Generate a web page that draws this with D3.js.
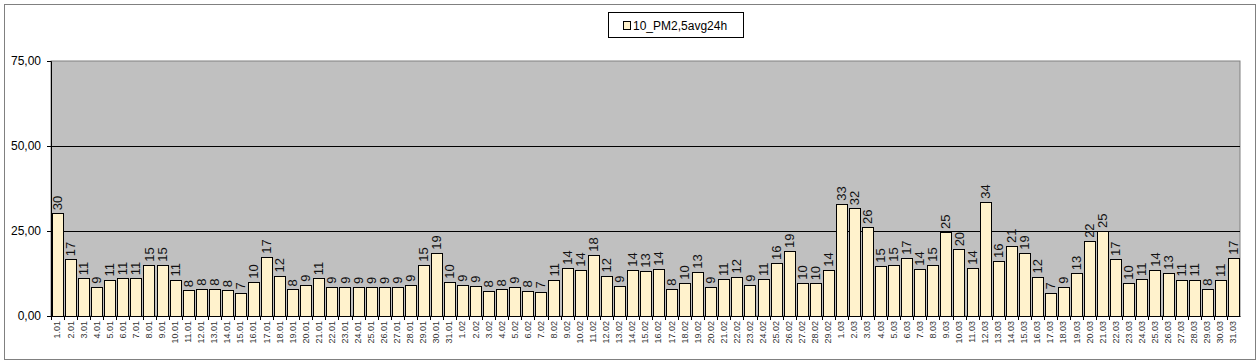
<!DOCTYPE html>
<html>
<head>
<meta charset="utf-8">
<script src="https://cdn.jsdelivr.net/npm/d3@7"></script>
<style>
  body { margin: 0; background: #fff; }
  svg { display: block; font-family: Arial, "Liberation Sans", sans-serif; }
</style>
</head>
<body>
<div id="chart"></div>
<script>
// daily PM2.5 24h averages, 1.01 - 31.03
var janValues = [30.2, 16.7, 11.1, 8.6, 10.7, 11.1, 11.1, 15.1, 15.1, 10.7, 7.6, 8.0, 8.0, 7.6, 6.9, 10.1,
  17.4, 11.9, 7.8, 9.2, 11.1, 8.6, 8.6, 8.5, 8.5, 8.5, 8.6, 9.2, 15.1, 18.6, 10.1];
var febValues = [9.2, 8.9, 7.5, 7.8, 8.6, 7.5, 7.2, 10.7, 14.2, 13.6, 18.0, 11.9, 8.9, 13.6, 13.3, 13.9,
  8.0, 9.8, 13.0, 8.6, 10.9, 11.6, 9.2, 10.9, 15.6, 19.1, 9.8, 9.6, 13.6];
var marValues = [33.0, 31.7, 26.2, 14.8, 15.1, 17.1, 13.9, 15.1, 24.7, 19.6, 14.2, 33.6, 16.2, 20.6, 18.6,
  11.6, 6.9, 8.6, 12.6, 22.1, 25.0, 16.8, 9.8, 10.9, 13.6, 12.7, 10.7, 10.7, 8.0, 10.6, 17.1];
var yTicks = [0, 25, 50, 75];
var seriesName = "10_PM2,5avg24h";

var days = [];
janValues.forEach(function(v, i) { days.push({label: (i + 1) + ".01", value: v}); });
febValues.forEach(function(v, i) { days.push({label: (i + 1) + ".02", value: v}); });
marValues.forEach(function(v, i) { days.push({label: (i + 1) + ".03", value: v}); });

var width = 1260, height = 364;
var margin = {top: 61, right: 20, bottom: 48, left: 51};

var svg = d3.select("#chart").append("svg").attr("width", width).attr("height", height);

// outer chart frame
svg.append("rect").attr("x", 4.5).attr("y", 4.5).attr("width", width - 9).attr("height", height - 9)
  .attr("fill", "none").attr("stroke", "#808080");

var x = d3.scaleBand().domain(days.map(function(d) { return d.label; }))
  .range([margin.left, width - margin.right]).paddingInner(0.15).paddingOuter(0.08);
var y = d3.scaleLinear().domain([0, 75]).range([height - margin.bottom, margin.top]);

// plot area
svg.append("rect").attr("x", margin.left).attr("y", margin.top)
  .attr("width", width - margin.right - margin.left).attr("height", y(0) - margin.top)
  .attr("fill", "#c0c0c0").attr("stroke", "#808080");

// grid
svg.append("g").selectAll("line").data(yTicks.filter(function(t) { return t > 0 && t < 75; })).enter()
  .append("line").attr("x1", margin.left).attr("x2", width - margin.right)
  .attr("y1", function(d) { return Math.round(y(d)) + 0.5; }).attr("y2", function(d) { return Math.round(y(d)) + 0.5; })
  .attr("stroke", "#000").attr("stroke-width", 1);

// y axis
var yAxis = svg.append("g").attr("transform", "translate(" + margin.left + ",0)")
  .call(d3.axisLeft(y).tickValues(yTicks).tickSize(4).tickPadding(6)
    .tickFormat(function(d) { return d3.format(".2f")(d).replace(".", ","); }));
yAxis.select(".domain").attr("stroke", "#000");
yAxis.selectAll("text").attr("font-size", 12).attr("fill", "#000").attr("font-family", "Arial, 'Liberation Sans', sans-serif");

// bars
svg.append("g").selectAll("rect").data(days).enter().append("rect")
  .attr("x", function(d) { return Math.round(x(d.label)) + 0.5; })
  .attr("y", function(d) { return Math.round(y(d.value)) + 0.5; })
  .attr("width", Math.round(x.bandwidth()))
  .attr("height", function(d) { return Math.round(y(0)) - Math.round(y(d.value)); })
  .attr("fill", "#fff2cc").attr("stroke", "#000").attr("stroke-width", 1);

// value labels
svg.append("g").selectAll("text").data(days).enter().append("text")
  .attr("transform", function(d) {
    return "translate(" + (x(d.label) + x.bandwidth() / 2 + 4.5) + "," + (y(d.value) - 3) + ") rotate(-90)";
  })
  .attr("font-size", 13).attr("fill", "#111")
  .text(function(d) { return Math.round(d.value); });

// x axis
var xAxis = svg.append("g").attr("transform", "translate(0," + y(0) + ")")
  .call(d3.axisBottom(x).tickSize(0).tickPadding(0));
xAxis.select(".domain").attr("stroke", "#000");
xAxis.selectAll(".tick text")
  .attr("transform", "rotate(-90)").attr("x", -5).attr("y", 0).attr("dy", "0.32em")
  .attr("text-anchor", "end").attr("font-size", 9).attr("fill", "#333");
// boundary ticks between days
svg.append("g").selectAll("line").data(days).enter().append("line")
  .attr("x1", function(d) { return Math.round(x(d.label) - x.step() * x.paddingInner() / 2) + 0.5; })
  .attr("x2", function(d) { return Math.round(x(d.label) - x.step() * x.paddingInner() / 2) + 0.5; })
  .attr("y1", y(0)).attr("y2", y(0) + 4).attr("stroke", "#000");

// legend
var legend = svg.append("g").attr("transform", "translate(608,12)");
legend.append("rect").attr("x", 0.5).attr("y", 0.5).attr("width", 135).attr("height", 25)
  .attr("fill", "#fff").attr("stroke", "#000");
legend.append("rect").attr("x", 15.5).attr("y", 9.5).attr("width", 7).attr("height", 8)
  .attr("fill", "#fff2cc").attr("stroke", "#000");
legend.append("text").attr("x", 25).attr("y", 18).attr("font-size", 12).attr("fill", "#000").text(seriesName);
</script>
</body>
</html>
